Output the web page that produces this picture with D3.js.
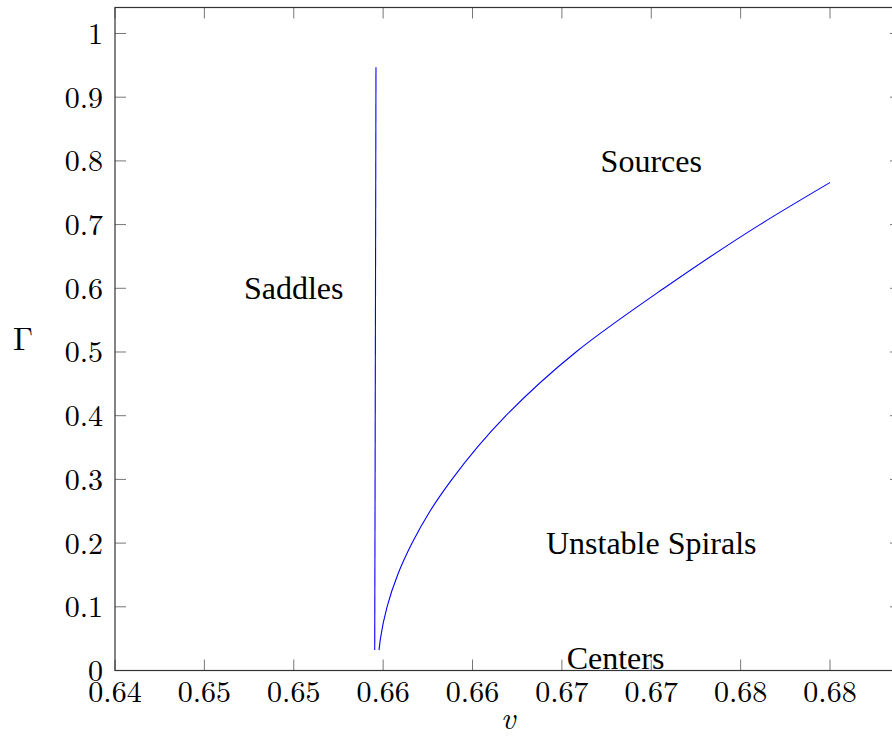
<!DOCTYPE html>
<html>
<head>
<meta charset="utf-8">
<script src="https://cdn.jsdelivr.net/npm/d3@7"></script>
<style>
  body { margin: 0; background: #fff; }
</style>
</head>
<body>
<div id="viz"></div>
<script>
// data
const X_TICKS = [0.64, 0.645, 0.65, 0.655, 0.66, 0.665, 0.67, 0.675, 0.68];
const X_TICK_LABELS = ["0.64", "0.65", "0.65", "0.66", "0.66", "0.67", "0.67", "0.68", "0.68"];
const Y_TICKS = [0, 0.1, 0.2, 0.3, 0.4, 0.5, 0.6, 0.7, 0.8, 0.9, 1];
const Y_TICK_LABELS = ["0", "0.1", "0.2", "0.3", "0.4", "0.5", "0.6", "0.7", "0.8", "0.9", "1"];

// saddle boundary (nearly vertical)
const saddleV = [0.65453, 0.65460];
const saddleG = [0.032, 0.947];

// source / spiral boundary
const curveV = [0.65477, 0.65485, 0.65522, 0.65581, 0.65662, 0.65762, 0.65885,
                0.66187, 0.66579, 0.67071, 0.67608, 0.68];
const curveG = [0.032, 0.05, 0.1, 0.15, 0.2, 0.25, 0.3,
                0.4, 0.5, 0.6, 0.7, 0.766];

const labels = ["Saddles", "Sources", "Unstable Spirals", "Centers"];
const labelV = [0.65, 0.67, 0.67, 0.668];
const labelG = [0.6, 0.8, 0.2, 0.02];

const width = 892, height = 738;
const margin = {left: 115, top: 7.5, right: 901, bottom: 670.5};
const LM = "'Latin Modern Roman'";
const TIMES = "'Liberation Serif'";

var svg = d3.select("#viz").append("svg").attr("width", width).attr("height", height);

var x = d3.scaleLinear().domain([0.64, 0.683972]).range([margin.left, margin.right]);
var y = d3.scaleLinear().domain([0, 1.0408]).range([margin.bottom, margin.top]);

const tickLen = 11;

// ticks (inside, on all four sides)
var g = svg.append("g");
X_TICKS.forEach(function(t) {
    g.append("line").attr("x1", x(t)).attr("x2", x(t)).attr("y1", margin.bottom).attr("y2", margin.bottom - tickLen)
        .attr("stroke", "#777").attr("stroke-width", 1);
    g.append("line").attr("x1", x(t)).attr("x2", x(t)).attr("y1", margin.top).attr("y2", margin.top + tickLen)
        .attr("stroke", "#777").attr("stroke-width", 1);
});
Y_TICKS.forEach(function(t) {
    g.append("line").attr("x1", margin.left).attr("x2", margin.left + tickLen).attr("y1", y(t)).attr("y2", y(t))
        .attr("stroke", "#777").attr("stroke-width", 1);
    g.append("line").attr("x1", margin.right).attr("x2", margin.right - tickLen).attr("y1", y(t)).attr("y2", y(t))
        .attr("stroke", "#777").attr("stroke-width", 1);
});

// data lines
var line = d3.line().x(d => x(d[0])).y(d => y(d[1]));
svg.append("path").datum(saddleV.map((v, i) => [v, saddleG[i]]))
    .attr("d", line).attr("fill", "none").attr("stroke", "#0000ff").attr("stroke-width", 1.1);
svg.append("path").datum(curveV.map((v, i) => [v, curveG[i]]))
    .attr("d", line.curve(d3.curveMonotoneY)).attr("fill", "none").attr("stroke", "#0000ff").attr("stroke-width", 1.1);

// frame
svg.append("rect").attr("x", margin.left).attr("y", margin.top)
    .attr("width", margin.right - margin.left).attr("height", margin.bottom - margin.top)
    .attr("fill", "none").attr("stroke", "#333").attr("stroke-width", 1.2);

function txt(xp, yp, fam, size) {
    return svg.append("text").attr("x", xp).attr("y", yp)
        .style("font-family", fam).style("font-size", size + "px").style("fill", "#000");
}

// tick labels
X_TICKS.forEach(function(t, i) {
    txt(x(t), margin.bottom + 31, LM, 30).attr("text-anchor", "middle").text(X_TICK_LABELS[i]);
});
Y_TICKS.forEach(function(t, i) {
    txt(margin.left - 12, y(t), LM, 30).attr("dy", "0.35em").attr("text-anchor", "end").text(Y_TICK_LABELS[i]);
});

// axis labels
txt(508, 729, LM, 32).attr("text-anchor", "middle").style("font-style", "italic").text("v");
txt(23, 350, LM, 32).attr("text-anchor", "middle").text("Γ");

// region labels
labels.forEach(function(l, i) {
    txt(x(labelV[i]), y(labelG[i]), TIMES, 32).attr("dy", "0.35em").attr("text-anchor", "middle").text(l);
});
</script>
</body>
</html>
